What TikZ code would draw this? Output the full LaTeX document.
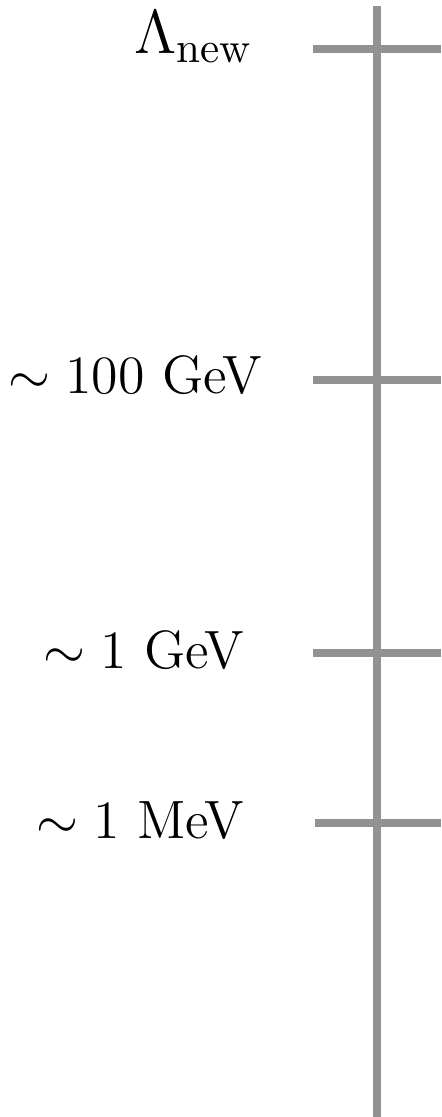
\documentclass[tikz,border=0pt]{standalone}
\usepackage{tikz}
\usetikzlibrary{positioning}
\definecolor{axisgray}{RGB}{146,146,146}

\begin{document}
\begin{tikzpicture}[x=0.01cm, y=-0.01cm, every node/.style={font=\Large, scale=1.065, inner sep=0pt},
    scaleline/.style={draw=axisgray, line width=0.08cm},
    lbl/.style={anchor=base east}]
    \useasboundingbox (0,0) rectangle (441,1117);
    \coordinate (top) at (377,6);
    \coordinate (bottom) at (377,1117);
    \draw[scaleline] (top) -- (bottom);
    \coordinate (newL) at (313,49);   \coordinate (newR) at (441,49);
    \coordinate (ewL) at (313,380);   \coordinate (ewR) at (441,380);
    \coordinate (gevL) at (313,653);  \coordinate (gevR) at (441,653);
    \coordinate (mevL) at (315,823);  \coordinate (mevR) at (441,823);
    \draw[scaleline] (newL) -- (newR);
    \draw[scaleline] (ewL) -- (ewR);
    \draw[scaleline] (gevL) -- (gevR);
    \draw[scaleline] (mevL) -- (mevR);
    \node[lbl, scale=1.15] (lnew) at (254,53) {$\Lambda_{\rm new}$};
    \node[lbl] (lew) at (263,393) {$\sim 100$ GeV};
    \node[lbl] (lgev) at (245,668) {$\sim 1$ GeV};
    \node[lbl] (lmev) at (245,838) {$\sim 1$ MeV};
\end{tikzpicture}
\end{document}
